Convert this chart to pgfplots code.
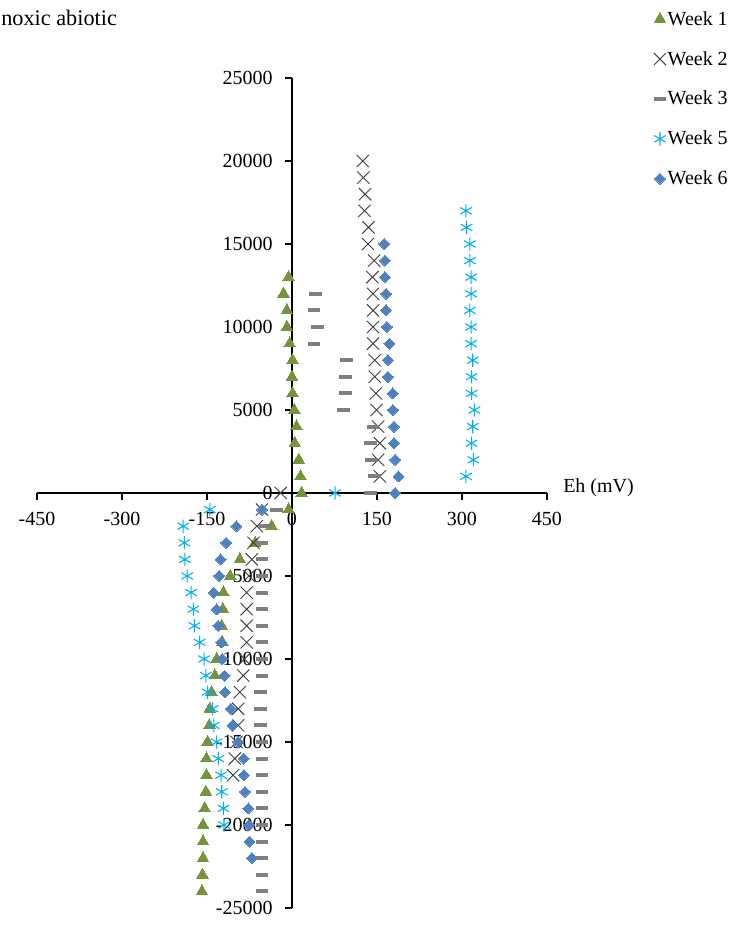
\documentclass[border=0pt]{standalone}
\usepackage{pgfplots}
\pgfplotsset{compat=1.18}
\usepackage{fontspec}
\setmainfont{Liberation Serif}
\definecolor{wkone}{HTML}{77933C}
\definecolor{wktwo}{HTML}{404040}
\definecolor{wkthree}{HTML}{7F7F7F}
\definecolor{wkfive}{HTML}{00B0F0}
\definecolor{wksix}{HTML}{4F81BD}
\newcommand{\ff}{\fontsize{15}{18}\selectfont}
\begin{document}
\begin{tikzpicture}
\useasboundingbox (-27.75pt,-15.75pt) rectangle (528.75pt,681pt);
\begin{axis}[
  at={(0,0)}, anchor=south west,
  width=382.5pt, height=622.5pt, scale only axis,
  xmin=-450, xmax=450, ymin=-25000, ymax=25000,
  axis lines=middle,
  axis line style={-, black, line width=0.9pt},
  every tick/.style={black, line width=0.9pt},
  xtick={-450,-300,...,450},
  ytick={-25000,-20000,...,25000},
  tick align=outside, major tick length=5pt,
  hide obscured x ticks=false, hide obscured y ticks=false,
  scaled y ticks=false, scaled x ticks=false,
  /pgf/number format/assume math mode=true,
  /pgf/number format/set thousands separator={},
  tick label style={font=\ff},
  yticklabel style={xshift=-6pt},
  xticklabel style={yshift=-6pt},
  clip=false,
  legend cell align=left,
  legend style={at={(axis description cs:1.2085,1.0823)}, anchor=north west,
    draw=none, fill=none, font=\ff, row sep=16pt, inner sep=0pt,
    nodes={inner sep=1pt}},
  legend image code/.code={\draw[mark repeat=2,mark phase=2,#1] plot coordinates {(0pt,0pt) (5pt,0pt) (10pt,0pt)};},
]
% Week 1
\addplot[only marks, mark=triangle*, mark size=5pt, mark options={fill=wkone, draw=wkone, line width=0pt}] coordinates {
(17,0)(15,1000)(12,2000)(5,3000)(8,4000)(4,5000)(1,6000)(0,7000)(1,8000)(-4,9000)(-9,10000)(-9,11000)(-15,12000)(-6,13000)
(-6,-1000)(-36,-2000)(-65,-3000)(-92,-4000)(-109,-5000)(-121,-6000)(-122,-7000)(-124,-8000)(-123,-9000)(-133,-10000)(-136,-11000)(-142,-12000)(-145,-13000)(-146,-14000)(-149,-15000)(-151,-16000)(-151,-17000)(-152,-18000)(-154,-19000)(-157,-20000)(-157,-21000)(-157,-22000)(-158,-23000)(-159,-24000)
};
\addlegendentry{Week 1}
% Week 2
\addplot[only marks, mark=x, mark size=6.5pt, mark options={draw=wktwo, line width=0.7pt}] coordinates {
(-20,0)(155,1000)(152,2000)(155,3000)(152,4000)(149,5000)(148,6000)(146,7000)(146,8000)(143,9000)(143,10000)(143,11000)(143,12000)(142,13000)(145,14000)(134,15000)(135,16000)(128,17000)(129,18000)(126,19000)(125,20000)
(-53,-1000)(-62,-2000)(-68,-3000)(-71,-4000)(-76,-5000)(-80,-6000)(-80,-7000)(-80,-8000)(-80,-9000)(-84,-10000)(-86,-11000)(-92,-12000)(-95,-13000)(-95,-14000)(-98,-15000)(-101,-16000)(-104,-17000)
};
\addlegendentry{Week 2}
% Week 3
\addplot[only marks, mark=-, mark size=4.8pt, mark options={draw=wkthree, line width=3pt}] coordinates {
(138,0)(146,1000)(141,2000)(139,3000)(143,4000)(91,5000)(95,6000)(95,7000)(96,8000)(39,9000)(45,10000)(39,11000)(42,12000)
(-27,-1000)(-48,-2000)(-53,-3000)(-53,-4000)(-53,-5000)(-53,-6000)(-53,-7000)(-53,-8000)(-53,-9000)(-53,-10000)(-53,-11000)(-55,-12000)(-55,-13000)(-55,-14000)(-53,-15000)(-53,-16000)(-53,-17000)(-53,-18000)(-53,-19000)(-53,-20000)(-53,-21000)(-53,-22000)(-53,-23000)(-53,-24000)
};
\addlegendentry{Week 3}
% Week 5
\addplot[only marks, mark=asterisk, mark size=5pt, mark options={draw=wkfive, line width=0.8pt}] coordinates {
(76,0)(307,1000)(320,2000)(317,3000)(319,4000)(322,5000)(317,6000)(317,7000)(319,8000)(316,9000)(316,10000)(314,11000)(316,12000)(316,13000)(314,14000)(314,15000)(308,16000)(307,17000)
(-145,-1000)(-192,-2000)(-190,-3000)(-189,-4000)(-185,-5000)(-178,-6000)(-174,-7000)(-172,-8000)(-163,-9000)(-155,-10000)(-152,-11000)(-149,-12000)(-140,-13000)(-138,-14000)(-133,-15000)(-130,-16000)(-125,-17000)(-124,-18000)(-121,-19000)(-120,-20000)
};
\addlegendentry{Week 5}
% Week 6
\addplot[only marks, mark=square*, mark size=2.9pt, mark options={rotate=45, fill=wksix, draw=wksix, line width=0pt}] coordinates {
(182,0)(188,1000)(182,2000)(180,3000)(180,4000)(178,5000)(178,6000)(169,7000)(169,8000)(172,9000)(167,10000)(166,11000)(166,12000)(164,13000)(164,14000)(163,15000)
(-53,-1000)(-98,-2000)(-116,-3000)(-126,-4000)(-128,-5000)(-138,-6000)(-133,-7000)(-130,-8000)(-125,-9000)(-123,-10000)(-119,-11000)(-118,-12000)(-108,-13000)(-105,-14000)(-95,-15000)(-85,-16000)(-85,-17000)(-83,-18000)(-77,-19000)(-76,-20000)(-75,-21000)(-71,-22000)
};
\addlegendentry{Week 6}
\node[anchor=west, inner sep=0pt, font=\ff] at (axis cs:450,0) [xshift=12pt, yshift=3.75pt] {Eh (mV)};
\end{axis}
\node[anchor=west, inner sep=0pt, font=\fontsize{16.7}{20}\selectfont] at (-27pt,667.5pt) {noxic abiotic};
\end{tikzpicture}
\end{document}
